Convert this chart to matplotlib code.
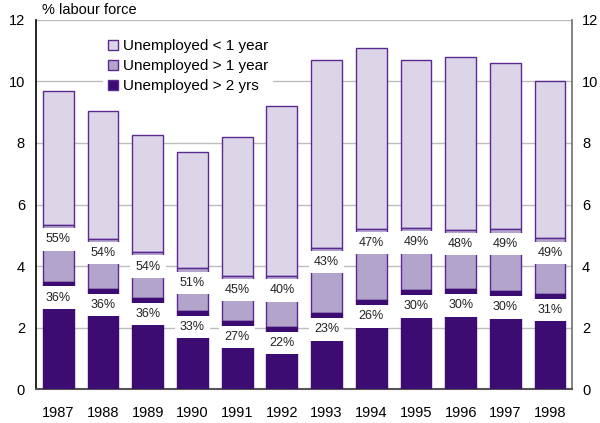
import matplotlib
matplotlib.use("Agg")
import matplotlib.pyplot as plt
import numpy as np

plt.rcParams['font.family'] = ['Liberation Sans', 'DejaVu Sans']

years = ['1987', '1988', '1989', '1990', '1991', '1992',
         '1993', '1994', '1995', '1996', '1997', '1998']
# total unemployment rate, % of labour force
total = [9.7, 9.05, 8.25, 7.7, 8.2, 9.2, 10.7, 11.1, 10.7, 10.8, 10.6, 10.0]
# share of the unemployed out of work for more than one year (%)
share_over_1yr = [55, 54, 54, 51, 45, 40, 43, 47, 49, 48, 49, 49]
# share of the unemployed out of work for more than two years (%)
share_over_2yr = [36, 36, 36, 33, 27, 22, 23, 26, 30, 30, 30, 31]

c_short = '#DCD5E8'
c_mid = '#B3A4CC'
c_long = '#3D0C73'
c_edge = '#5A2A92'

total_a = np.array(total)
over1 = total_a * np.array(share_over_1yr) / 100
over2 = total_a * np.array(share_over_2yr) / 100
x = np.arange(len(years))

fig = plt.figure(figsize=(6.0, 4.23), dpi=100)
ax = fig.add_axes([0.06, 0.08, 0.894, 0.873])

w = 0.69
ax.bar(x, total_a - over1, w, bottom=over1, color=c_short, edgecolor=c_edge,
       linewidth=1.0, label='Unemployed < 1 year', zorder=3)
ax.bar(x, over1 - over2, w, bottom=over2, color=c_mid, edgecolor=c_edge,
       linewidth=1.0, label='Unemployed > 1 year', zorder=3)
ax.bar(x, over2, w, color=c_long, edgecolor=c_long,
       linewidth=1.0, label='Unemployed > 2 yrs', zorder=3)

box = dict(boxstyle='square,pad=0.42', facecolor='white', edgecolor='none')
for xi, v1, v2, p1, p2 in zip(x, over1, over2, share_over_1yr, share_over_2yr):
    ax.text(xi, v1 - 0.47, f'{p1}%', ha='center', va='center', fontsize=9,
            color='#222222', bbox=box, zorder=5)
    ax.text(xi, v2 - 0.52, f'{p2}%', ha='center', va='center', fontsize=9,
            color='#222222', bbox=box, zorder=5)

ax.set_xlim(-0.5, len(years) - 0.5)
ax.set_ylim(0, 12)
ax.set_yticks(range(0, 13, 2))
ax.set_xticks(x)
ax.set_xticklabels(years)
ax.tick_params(axis='both', length=0, labelsize=10.5, colors='black')
ax.tick_params(axis='x', pad=12)
ax.tick_params(axis='y', pad=8)
ax.yaxis.grid(True, color='#BDBDBD', linewidth=1.0, zorder=0)
ax.set_axisbelow(True)

ax.spines['top'].set_visible(False)
ax.spines['left'].set_color('black')
ax.spines['left'].set_linewidth(1.2)
ax.spines['right'].set_color('#6E6E6E')
ax.spines['right'].set_linewidth(1.2)
ax.spines['bottom'].set_color('#555555')
ax.spines['bottom'].set_linewidth(1.5)

ax2 = ax.twinx()
ax2.set_ylim(0, 12)
ax2.set_yticks(range(0, 13, 2))
ax2.tick_params(axis='y', length=0, labelsize=10.5, pad=7)
for s in ax2.spines.values():
    s.set_visible(False)

leg = ax.legend(loc='upper left', bbox_to_anchor=(0.125, 0.96), frameon=True,
                fontsize=11, handlelength=0.7, handleheight=0.7,
                handletextpad=0.3, labelspacing=0.4, borderpad=0.3,
                borderaxespad=0)
leg.get_frame().set_facecolor('white')
leg.get_frame().set_edgecolor('none')
leg.get_frame().set_alpha(1.0)
leg.set_zorder(6)
for h in leg.legend_handles:
    h.set_edgecolor(c_edge)

fig.text(0.07, 0.977, '% labour force', fontsize=10.5, ha='left', va='center')

fig.savefig('out.png', dpi=100)
